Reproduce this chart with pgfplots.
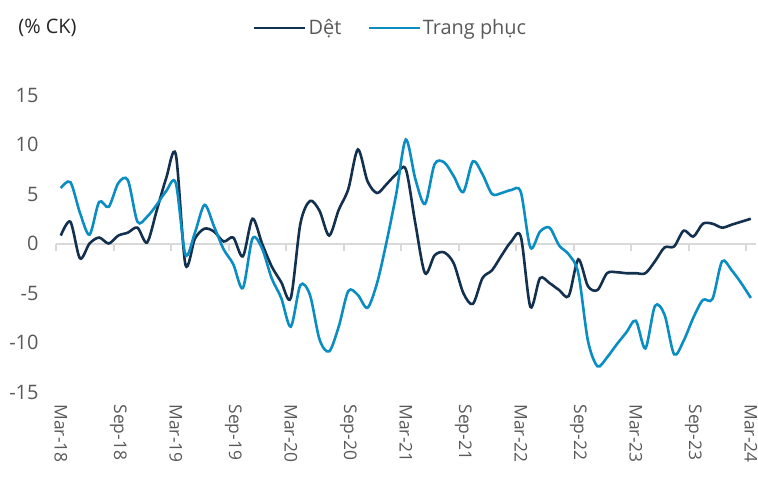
\documentclass[border=0pt]{standalone}
\usepackage{fontspec}
\setmainfont{Open Sans}
\usepackage{pgfplots}
\usepackage{pgfplotstable}
\pgfplotsset{compat=1.18}

\definecolor{det}{HTML}{13304F}
\definecolor{tp}{HTML}{0A8DC2}
\definecolor{txt}{HTML}{595959}
\definecolor{zline}{HTML}{D9D9D9}

% tang truong % CK, thang 3/2018 - 3/2024
\pgfplotstableread{
x det tp
0 0.8 5.6
1 2.2 6.2
2 -1.5 3.1
3 0.0 0.9
4 0.6 4.2
5 0.0 3.7
6 0.8 6.1
7 1.1 6.4
8 1.6 2.2
9 0.1 2.7
10 3.3 3.9
11 6.6 5.3
12 9.0 6.1
13 -2.1 -1.1
14 0.5 1.1
15 1.5 3.9
16 1.2 1.7
17 0.2 -0.6
18 0.6 -2.1
19 -1.3 -4.5
20 2.5 0.5
21 0.0 -0.5
22 -2.3 -3.5
23 -3.9 -5.5
24 -5.5 -8.4
25 2.0 -4.2
26 4.3 -5.2
27 3.3 -9.7
28 0.8 -10.9
29 3.4 -8.4
30 5.5 -4.8
31 9.5 -5.2
32 6.3 -6.5
33 5.1 -4.0
34 6.0 0.2
35 7.0 5.0
36 7.5 10.5
37 2.0 6.5
38 -3.0 4.0
39 -1.2 8.0
40 -0.9 8.2
41 -2.0 6.8
42 -5.0 5.2
43 -6.1 8.3
44 -3.5 7.0
45 -2.7 5.0
46 -1.2 5.1
47 0.2 5.4
48 0.7 5.2
49 -6.4 -0.4
50 -3.5 1.2
51 -4.0 1.6
52 -4.7 -0.2
53 -5.3 -1.1
54 -1.6 -3.0
55 -4.3 -9.8
56 -4.7 -12.4
57 -3.0 -11.5
58 -2.9 -10.2
59 -3.0 -9.0
60 -3.0 -7.8
61 -3.0 -10.6
62 -1.8 -6.3
63 -0.4 -7.2
64 -0.3 -11.2
65 1.3 -9.8
66 0.7 -7.5
67 2.0 -5.7
68 2.0 -5.6
69 1.6 -1.8
70 1.9 -2.7
71 2.2 -4.0
72 2.5 -5.5
}\datatable

\begin{document}
\begin{tikzpicture}
\begin{axis}[
    name=ax, at={(0,0)}, anchor=south west,
    scale only axis, width=699.6bp, height=297bp,
    xmin=-0.5, xmax=72.5, ymin=-15, ymax=15,
    axis line style={draw=none},
    ytick={-15,-10,...,15},
    xtick={0,6,...,72},
    xticklabels={Mar-18,Sep-18,Mar-19,Sep-19,Mar-20,Sep-20,Mar-21,Sep-21,Mar-22,Sep-22,Mar-23,Sep-23,Mar-24},
    major tick length=0pt,
    tick label style={font=\fontsize{20}{24}\selectfont, text=txt},
    /pgf/number format/assume math mode=true,
    yticklabel shift=14bp,
    xticklabel style={rotate=-90, anchor=west, font=\fontsize{17.5}{20}\selectfont},
    xticklabel shift=9bp,
    legend style={at={(0.277,1.226)}, anchor=west, draw=none, fill=none,
        legend columns=-1, font=\fontsize{20}{24}\selectfont, text=txt,
        /tikz/every even column/.append style={column sep=24bp}},
    legend image code/.code={\draw[#1] (0bp,0bp) -- (51bp,0bp);},
    clip=false,
]
\draw[zline, line width=2bp] (axis cs:-0.5,0) -- (axis cs:72.5,0);
\pgfplotsinvokeforeach{-0.5,5.5,11.5,17.5,23.5,29.5,35.5,41.5,47.5,53.5,59.5,65.5,71.5}{
  \draw[zline, line width=2bp] (axis cs:#1,0) -- ([yshift=-7bp]axis cs:#1,0);
}
\addplot[det, line width=2.6bp, smooth, tension=0.5] table[x=x, y=det] {\datatable};
\addplot[tp, line width=2.6bp, smooth, tension=0.5] table[x=x, y=tp] {\datatable};
\legend{Dệt, Trang phục}
\node[anchor=west, font=\fontsize{20}{24}\selectfont, text=black!85, inner sep=0pt]
  at (rel axis cs:-0.054,1.226) {(\% CK)};
\end{axis}
\pgfresetboundingbox
\path[use as bounding box] (-56bp,-87bp) rectangle (702bp,392bp);
\end{tikzpicture}
\end{document}
